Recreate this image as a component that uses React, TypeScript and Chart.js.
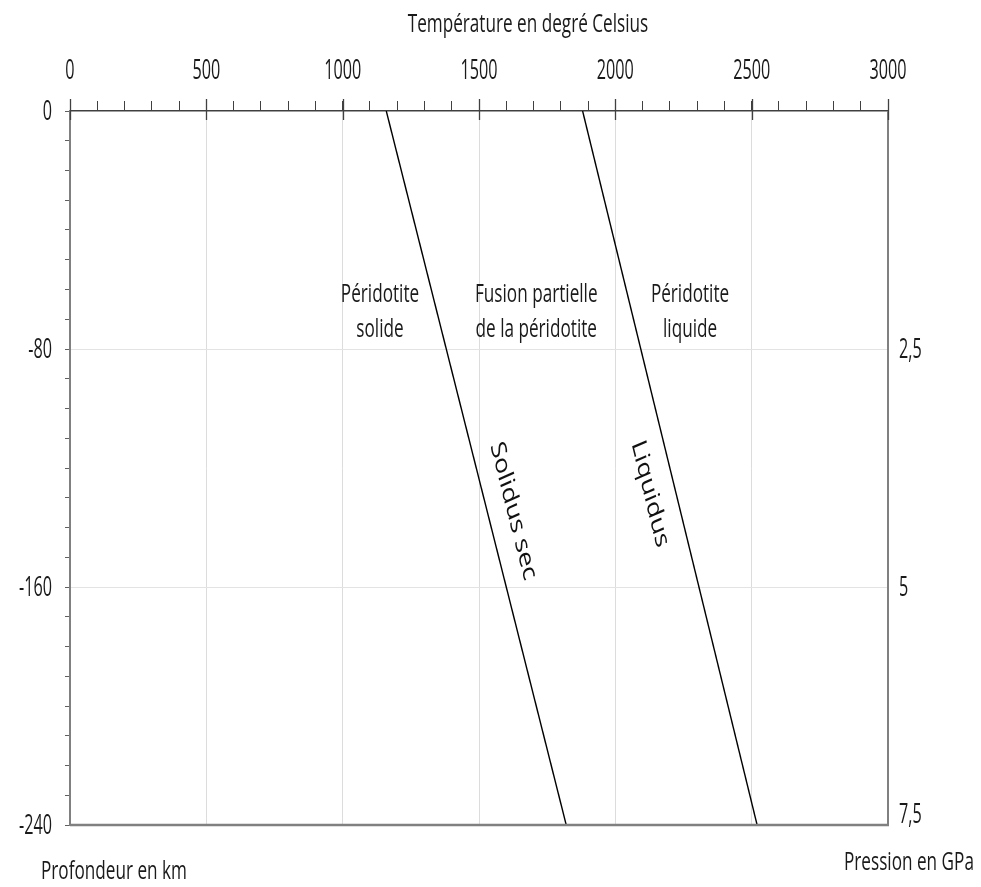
import React, { useEffect, useRef } from "react";
import { Chart, registerables } from "chart.js";

Chart.register(...registerables);

// ---- data ----
const depthKm = [0, -240];
const solidusTemp = [1160, 1820];
const liquidusTemp = [1880, 2520];

const tempTicksMajor = [0, 500, 1000, 1500, 2000, 2500, 3000];
const depthTicksMajor = [0, -80, -160, -240];
const pressureLabels = ["", "2,5", "5", "7,5"]; // at depthTicksMajor

const FONT = "'Open Sans', 'Noto Sans', sans-serif";

// annotation texts (positions in data units)
const zoneLabels = [
  { x: 1137, lines: ["Péridotite", "solide"] },
  { x: 1710, lines: ["Fusion partielle", "de la péridotite"] },
  { x: 2274, lines: ["Péridotite", "liquide"] },
];
const zoneLineDepths = [-64.2, -75.9];
const curveLabels = [
  { text: "Solidus sec", x: 1625, y: -134.5, curve: solidusTemp },
  { text: "Liquidus", x: 2127, y: -128.7, curve: liquidusTemp },
];

function drawText(ctx: any, text: string, x: number, y: number, align: string, size: number, sx: number) {
  ctx.save();
  ctx.translate(x, y);
  ctx.scale(sx, 1);
  ctx.font = `${size}px ${FONT}`;
  ctx.textAlign = align;
  ctx.textBaseline = "alphabetic";
  ctx.fillStyle = "#1a1a1a";
  ctx.fillText(text, 0, 0);
  ctx.restore();
}

const TXT = 26;
const TXS = 0.66;
const DIG = 27;
const DGS = 0.6;

const decoPlugin = {
  id: "deco",
  afterDraw(chart: any) {
    const { ctx, chartArea: a, scales } = chart;
    const xs = scales.x;
    const ys = scales.y;
    const ys2 = scales.y2;
    ctx.save();
    // right & bottom borders
    ctx.strokeStyle = "#808080";
    ctx.lineWidth = 2;
    ctx.beginPath();
    ctx.moveTo(a.right, a.top);
    ctx.lineTo(a.right, a.bottom);
    ctx.stroke();
    ctx.lineWidth = 2.5;
    ctx.beginPath();
    ctx.moveTo(a.left, a.bottom);
    ctx.lineTo(a.right + 1, a.bottom);
    ctx.stroke();
    // major x ticks crossing down
    ctx.strokeStyle = "#404040";
    ctx.lineWidth = 1.3;
    tempTicksMajor.forEach((v) => {
      const px = Math.round(xs.getPixelForValue(v)) + 0.5;
      ctx.beginPath();
      ctx.moveTo(px, a.top - 12);
      ctx.lineTo(px, a.top + 9);
      ctx.stroke();
    });
    ctx.restore();

    // tick labels from the library's ticks
    xs.ticks.forEach((t: any) => {
      if (tempTicksMajor.includes(t.value)) drawText(ctx, String(t.value), xs.getPixelForValue(t.value), 79, "center", DIG, DGS);
    });
    ys.ticks.forEach((t: any) => {
      if (depthTicksMajor.includes(t.value)) drawText(ctx, String(t.value), 52, ys.getPixelForValue(t.value) + 9, "right", DIG, DGS);
    });
    ys2.ticks.forEach((t: any) => {
      const i = depthTicksMajor.indexOf(t.value);
      if (i >= 0 && pressureLabels[i]) {
        const py = ys2.getPixelForValue(t.value);
        const base = t.value === -240 ? py - 2 : py + 9;
        drawText(ctx, pressureLabels[i], 899, base, "left", DIG, DGS);
      }
    });

    // titles
    drawText(ctx, "Température en degré Celsius", 528, 32, "center", TXT, TXS);
    drawText(ctx, "Profondeur en km", 41, 879, "left", TXT, TXS);
    drawText(ctx, "Pression en GPa", 844, 870, "left", TXT, TXS);

    // zone labels
    zoneLabels.forEach((z) => {
      z.lines.forEach((t, i) => {
        drawText(ctx, t, xs.getPixelForValue(z.x), ys.getPixelForValue(zoneLineDepths[i]), "center", TXT, TXS);
      });
    });

    // rotated curve labels
    const sx = 0.75;
    curveLabels.forEach((c) => {
      const x0 = xs.getPixelForValue(c.curve[0]);
      const y0 = ys.getPixelForValue(depthKm[0]);
      const x1 = xs.getPixelForValue(c.curve[1]);
      const y1 = ys.getPixelForValue(depthKm[1]);
      const ang = Math.atan2(y1 - y0, (x1 - x0) / sx);
      ctx.save();
      ctx.translate(xs.getPixelForValue(c.x), ys.getPixelForValue(c.y));
      ctx.scale(sx, 1);
      ctx.rotate(ang);
      ctx.font = `28px ${FONT}`;
      ctx.textAlign = "center";
      ctx.textBaseline = "middle";
      ctx.fillStyle = "#111";
      ctx.fillText(c.text, 0, 0);
      ctx.restore();
    });
  },
};

export default function App() {
  const ref = useRef<HTMLCanvasElement>(null);
  useEffect(() => {
    if (!ref.current) return;
    const chart = new Chart(ref.current, {
      type: "scatter",
      data: {
        datasets: [
          {
            label: "Solidus sec",
            data: depthKm.map((d, i) => ({ x: solidusTemp[i], y: d })),
            showLine: true,
            borderColor: "#000",
            borderWidth: 1.4,
            pointRadius: 0,
          },
          {
            label: "Liquidus",
            data: depthKm.map((d, i) => ({ x: liquidusTemp[i], y: d })),
            showLine: true,
            borderColor: "#000",
            borderWidth: 1.4,
            pointRadius: 0,
          },
        ],
      },
      options: {
        responsive: false,
        animation: false,
        layout: { padding: { top: 0, left: 0, right: 0, bottom: 62 } },
        plugins: { legend: { display: false }, tooltip: { enabled: false } },
        scales: {
          x: {
            type: "linear",
            position: "top",
            min: 0,
            max: 3000,
            afterFit: (s: any) => {
              s.height = 111;
            },
            ticks: { stepSize: 100, autoSkip: false, display: false },
            grid: {
              color: (c: any) =>
                c.tick && tempTicksMajor.includes(c.tick.value) && c.tick.value !== 0 && c.tick.value !== 3000
                  ? "#dcdcdc"
                  : "rgba(0,0,0,0)",
              tickColor: "#404040",
              tickLength: 10,
              lineWidth: 1,
            },
            border: { color: "#404040", width: 1.5 },
          },
          y: {
            type: "linear",
            position: "left",
            min: -240,
            max: 0,
            afterFit: (s: any) => {
              s.width = 70;
            },
            ticks: { stepSize: 10, autoSkip: false, display: false },
            grid: {
              color: (c: any) =>
                c.tick && (c.tick.value === -80 || c.tick.value === -160) ? "#e3e3e3" : "rgba(0,0,0,0)",
              tickColor: "#606060",
              tickLength: 5,
              lineWidth: 1,
            },
            border: { color: "#808080", width: 2 },
          },
          y2: {
            type: "linear",
            position: "right",
            min: -240,
            max: 0,
            afterFit: (s: any) => {
              s.width = 93;
            },
            ticks: { stepSize: 80, autoSkip: false, display: false },
            grid: { display: false, drawTicks: false },
            border: { display: false },
          },
        },
      },
      plugins: [decoPlugin],
    });
    return () => chart.destroy();
  }, []);
  return (
    <div style={{ position: "absolute", left: 0, top: 0, width: 981, height: 887, background: "#fff" }}>
      <canvas ref={ref} width={981} height={887} />
    </div>
  );
}
